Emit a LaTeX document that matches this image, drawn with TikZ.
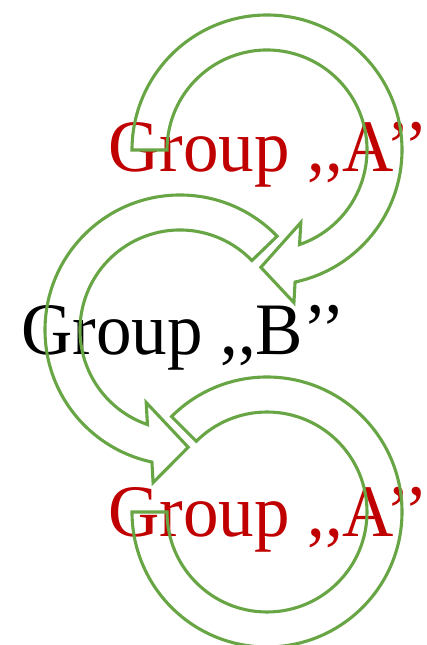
\documentclass[tikz,border=0pt]{standalone}
\usepackage{fontspec}
\setmainfont{Liberation Serif}[FakeStretch=0.96]
\definecolor{ringgreen}{RGB}{104,165,68}
\definecolor{groupred}{RGB}{192,0,0}
\tikzset{
  ring/.style={draw=ringgreen,line width=3.1pt},
  grouplabel/.style={anchor=base west,inner sep=0pt,font=\fontsize{74}{80}\selectfont}
}
\begin{document}
\begin{tikzpicture}[x=1pt,y=1pt]
\useasboundingbox (0,0) rectangle (427,645);

\node[grouplabel,text=groupred] (groupAtop) at (108,473) {Group ,{},A’{}’};
\node[grouplabel,text=black] (groupB) at (21,290) {Group ,{},B’{}’};
\node[grouplabel,text=groupred] (groupAbottom) at (108,108) {Group ,{},A’{}’};

\begin{scope}[shift={(267,495)}]
\draw[ring] (180:135) arc[start angle=180,end angle=-78,radius=135]
  -- (-80:155) -- (-93:117.5) -- (-65:80) -- (-71:100)
  arc[start angle=-71,end angle=180,radius=100] -- cycle;
\end{scope}

\begin{scope}[shift={(180,315)}]
\draw[ring] (44:135) arc[start angle=44,end angle=258,radius=135]
  -- (260:155) -- (274:117.5) -- (245:80) -- (251:100)
  arc[start angle=251,end angle=44,radius=100] -- cycle;
\end{scope}

\begin{scope}[shift={(267,133)}]
\draw[ring] (135:135) arc[start angle=135,end angle=-180,radius=135]
  -- (180:100) arc[start angle=-180,end angle=135,radius=100] -- cycle;
\end{scope}
\end{tikzpicture}
\end{document}
